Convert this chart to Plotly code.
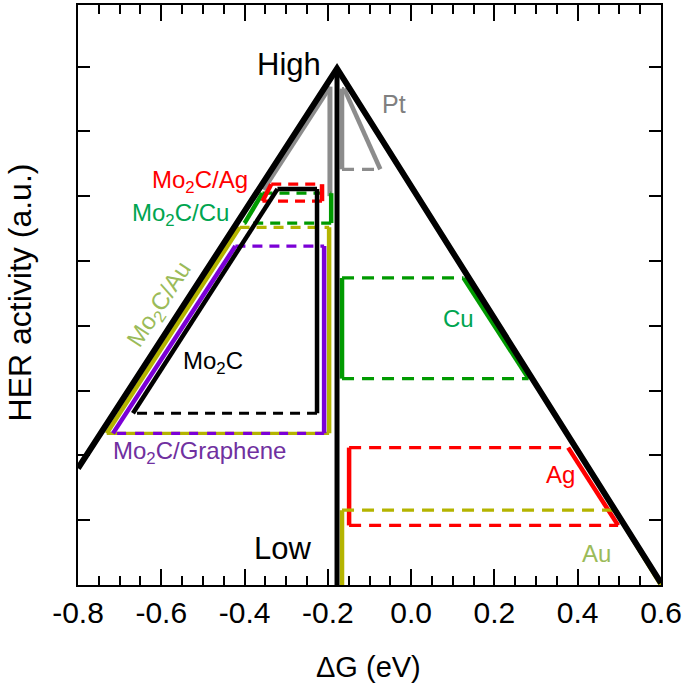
import plotly.graph_objects as go

# volcano outline (dG in eV, activity in a.u.)
VOLC_X = [-0.80, -0.178, 0.60]
VOLC_Y = [1.80, 7.97, 0.03]
PEAK_X = -0.178
PEAK_Y = 7.97

# left-of-peak ranges: [x bottom-left, x top-left, x right, y bottom, y top]
MO2C = [-0.668, -0.321, -0.226, 2.65, 6.11]
MO2C_GR = [-0.716, -0.422, -0.209, 2.34, 5.23]
MO2C_AU = [-0.731, -0.412, -0.197, 2.34, 5.52]
MO2C_CU = [-0.400, -0.357, -0.192, 5.585, 6.046]
MO2C_AG = [-0.357, -0.336, -0.214, 5.923, 6.185]
PT_L = [-0.355, -0.195, -0.195, 6.10, 7.69]

# right-of-peak ranges: [x left, x top-right, x bottom-right, y bottom, y top]
CU = [-0.166, 0.126, 0.282, 3.185, 4.738]
AG = [-0.149, 0.377, 0.497, 0.92, 2.12]
AU = [-0.166, 0.490, 0.600, 0.00, 1.154]
PT_R = [-0.166, -0.161, -0.074, 6.415, 7.66]

X_TICKS = [-0.8, -0.6, -0.4, -0.2, 0.0, 0.2, 0.4, 0.6]
X_TICKTEXT = ["-0.8", "-0.6", "-0.4", "-0.2", "0.0", "0.2", "0.4", "0.6"]

BLACK = "#000000"
GRAY = "#8c8c8c"
RED = "#ff0000"
GREEN = "#009a00"
OLIVE = "#b4b400"
PURPLE = "#7b00d6"

FONT = "Liberation Sans, Arial, Helvetica, sans-serif"

fig = go.Figure()


def seg(x, y, color, width=4.5, dash="solid"):
    fig.add_trace(go.Scatter(x=x, y=y, mode="lines", showlegend=False, hoverinfo="skip",
                             line=dict(color=color, width=width, dash=dash)))


def left_box(r, color, top_solid=False, bottom_dash="10px,7px"):
    xb, xt, xr, yb, yt = r
    seg([xr, xb], [yb, yb], color, 3.2, bottom_dash)
    seg([xt, xr], [yt, yt], color, 4.5 if top_solid else 3.2, "solid" if top_solid else "10px,7px")
    seg([xb, xt], [yb, yt], color)
    seg([xr, xr], [yt, yb], color)


def right_box(r, color, bottom=True):
    xl, xt, xb, yb, yt = r
    if bottom:
        seg([xl, xb], [yb, yb], color, 3.2, "12px,8px")
    seg([xl, xt], [yt, yt], color, 3.2, "12px,8px")
    seg([xl, xl], [yb, yt], color)
    seg([xt, xb], [yt, yb], color)


# Pt (gray)
seg([PT_L[0], PT_L[1]], [PT_L[3], PT_L[4]], GRAY, 5)
seg([PT_L[2], PT_L[2]], [PT_L[4], 6.0], GRAY, 5)
right_box(PT_R, GRAY)

# Mo2C/Au (olive) under Mo2C/Graphene (purple), shared bottom alternates
left_box(MO2C_AU, OLIVE, bottom_dash="solid")
left_box(MO2C_GR, PURPLE, bottom_dash="9px,9px")
left_box(MO2C_CU, GREEN)
left_box(MO2C_AG, RED)
left_box(MO2C, BLACK, top_solid=True)

right_box(CU, GREEN)
right_box(AG, RED)
right_box(AU, OLIVE, bottom=False)

# volcano
seg(VOLC_X, VOLC_Y, BLACK, 6)
seg([PEAK_X, PEAK_X], [PEAK_Y, 0], BLACK, 5)


def label(text, x, y, color, size=24, angle=0, xanchor="center"):
    fig.add_annotation(x=x, y=y, text=text, showarrow=False, textangle=angle, xanchor=xanchor,
                       font=dict(family=FONT, size=size, color=color))


label("High", -0.212, 8.03, BLACK, 31, xanchor="right")
label("Low", -0.236, 0.57, BLACK, 31, xanchor="right")
label("Pt", -0.041, 7.42, "#808080", 25)
label("Mo<sub>2</sub>C/Ag", -0.506, 6.23, RED)
label("Mo<sub>2</sub>C/Cu", -0.554, 5.72, "#00a550")
label("Mo<sub>2</sub>C/Au", -0.604, 4.32, "#9bbb59", angle=-57)
label("Mo<sub>2</sub>C", -0.477, 3.43, BLACK)
label("Mo<sub>2</sub>C/Graphene", -0.508, 2.05, "#7030a0")
label("Cu", 0.114, 4.12, "#00a550")
label("Ag", 0.358, 1.71, RED)
label("Au", 0.444, 0.49, "#9bbb59")

fig.add_annotation(x=-0.099, y=0.505, xref="paper", yref="paper", text="HER activity (a.u.)",
                   xanchor="center", yanchor="middle",
                   showarrow=False, textangle=-90, font=dict(family=FONT, size=32, color=BLACK))
fig.add_annotation(x=0.499, y=-0.141, xref="paper", yref="paper", text="ΔG (eV)",
                   xanchor="center", yanchor="middle",
                   showarrow=False, font=dict(family=FONT, size=29, color=BLACK))

fig.update_xaxes(range=[-0.8, 0.6], tickvals=X_TICKS, ticktext=X_TICKTEXT,
                 ticks="inside", ticklen=16, tickwidth=1.5, tickcolor=BLACK,
                 minor=dict(dtick=0.05, tick0=0, ticks="inside", ticklen=9, tickwidth=1.5, tickcolor=BLACK),
                 showline=True, linewidth=2, linecolor=BLACK, mirror="ticks",
                 showgrid=False, zeroline=False,
                 tickfont=dict(family=FONT, size=30, color=BLACK))
fig.update_yaxes(range=[0, 8.95], dtick=1, tick0=0, ticks="inside", ticklen=12, tickwidth=1.5,
                 tickcolor=BLACK, showticklabels=False,
                 showline=True, linewidth=2, linecolor=BLACK, mirror="ticks",
                 showgrid=False, zeroline=False)

fig.update_layout(width=685, height=686, margin=dict(l=78, r=22, t=3, b=101),
                  paper_bgcolor="white", plot_bgcolor="white", showlegend=False)

fig.write_html("out.html", config={"displayModeBar": False},
               post_script="document.body.style.margin='0px';")
